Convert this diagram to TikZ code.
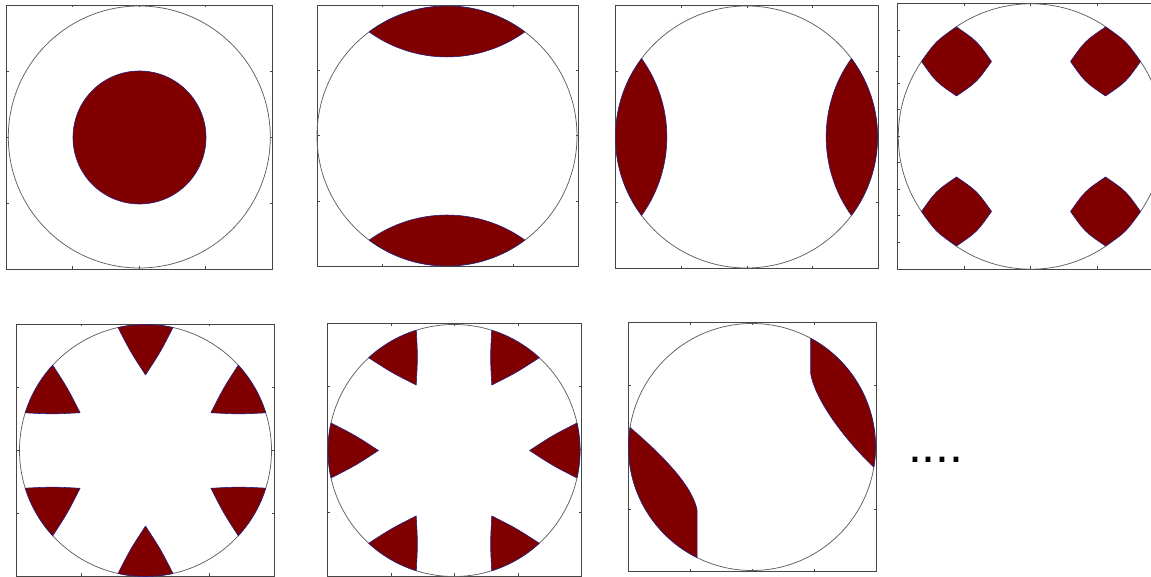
\documentclass[tikz,border=0pt]{standalone}
\usepackage{fontspec}
\newfontfamily\dotfont{Liberation Sans}
\definecolor{maroonfill}{RGB}{128,0,0}
\definecolor{edgeblue}{RGB}{40,30,130}
\definecolor{boxgray}{RGB}{70,70,70}
\definecolor{circgray}{RGB}{95,95,95}
\tikzset{
  boxline/.style={draw=boxgray, line width=0.8pt},
  ring/.style={draw=circgray, line width=0.75pt},
  blob/.style={fill=maroonfill, draw=edgeblue, line width=0.6pt, line join=round},
}
% box with inward ticks: x1 y1 x2 y2 nx nx-1 ny ny-1
\newcommand\axbox[8]{%
  \draw[boxline] (#1,#2) rectangle (#3,#4);
  \foreach \k in {1,...,#6}{%
    \pgfmathsetmacro\tkx{#1+(#3-#1)*\k/#5}
    \draw[boxline] (\tkx,#2) -- ++(0,2.5) (\tkx,#4) -- ++(0,-2.5);}
  \foreach \k in {1,...,#8}{%
    \pgfmathsetmacro\tky{#2+(#4-#2)*\k/#7}
    \draw[boxline] (#1,\tky) -- ++(2.5,0) (#3,\tky) -- ++(-2.5,0);}
}
\newcommand\lensA{(53.2:1) arc[start angle=53.2,end angle=126.8,radius=1] arc[start angle=234.3,end angle=305.7,radius=1.026] -- cycle}
\newcommand\wedgeA{(0,0.6) .. controls (-0.119,0.782) .. (102.6:1) arc[start angle=102.6,end angle=77.4,radius=1] .. controls (0.119,0.782) .. (0,0.6) -- cycle}
\begin{document}
\begin{tikzpicture}[x=1pt,y=1pt]
\useasboundingbox (0,0) rectangle (1151,577);
\clip (0,0) rectangle (1151,577);

% panel 1
\axbox{6}{308}{272.5}{572}{4}{3}{4}{3}
\draw[ring] (139.3,440) circle[radius=131];
\path[blob] (139.5,439.5) circle[radius=66.5];

% panel 2
\axbox{317.3}{310.3}{578.3}{572}{4}{3}{4}{3}
\draw[ring] (447,441) circle[radius=130];
\begin{scope}[shift={(447,441)},scale=130]
  \path[blob] \lensA;
  \begin{scope}[rotate=180]\path[blob] \lensA;\end{scope}
\end{scope}

% panel 3
\axbox{615.7}{308.7}{878.3}{571.3}{4}{3}{4}{3}
\draw[ring] (746.5,440) circle[radius=131];
\begin{scope}[shift={(746.5,440)},scale=131]
  \begin{scope}[rotate=90]\path[blob] \lensA;\end{scope}
  \begin{scope}[rotate=-90]\path[blob] \lensA;\end{scope}
\end{scope}

% panel 4
\axbox{897.3}{308}{1164}{573.5}{4}{3}{10}{9}
\draw[ring] (1031,440.5) circle[radius=132.7];
\begin{scope}[shift={(1031,440.5)}]
  \foreach \dx/\dy in {-74.5/75, 74.5/75, -74.5/-75, 74.5/-75}{
    \begin{scope}[shift={(\dx,\dy)}]
      \path[blob] (35,0) .. controls (20.5,20.5) .. (0,34.5)
        .. controls (-20.5,20.5) .. (-35,0)
        .. controls (-20.5,-20.5) .. (0,-34.5)
        .. controls (20.5,-20.5) .. (35,0) -- cycle;
    \end{scope}}
\end{scope}

% panel 5
\axbox{16.7}{1}{274}{253}{4}{3}{4}{3}
\draw[ring] (145.5,126.5) circle[radius=126];
\begin{scope}[shift={(145.5,126.5)},scale=126]
  \foreach \a in {0,60,...,300}{
    \begin{scope}[rotate=\a]\path[blob] \wedgeA;\end{scope}}
\end{scope}

% panel 6
\axbox{327.3}{1}{581.7}{253.7}{4}{3}{4}{3}
\draw[ring] (454,126.5) circle[radius=126];
\begin{scope}[shift={(454,126.5)},scale=126]
  \foreach \a in {30,90,...,330}{
    \begin{scope}[rotate=\a]\path[blob] \wedgeA;\end{scope}}
\end{scope}

% panel 7
\axbox{628.3}{5.3}{876.7}{254.3}{4}{3}{4}{3}
\draw[ring] (752,130) circle[radius=123.5];
\begin{scope}[shift={(752,130)}]
  \path[blob] (61.7:123.5) arc[start angle=61.7,end angle=-9.4,radius=123.5]
    .. controls (93,7) and (63,47) .. (58.6,73.7) -- cycle;
  \path[blob] (170.9:123.5) arc[start angle=170.9,end angle=243.6,radius=123.5]
    -- (-54.9,-63) .. controls (-60,-38) and (-90,-8) .. (170.9:123.5) -- cycle;
\end{scope}

\node[anchor=base west, inner sep=0pt, font=\dotfont\fontsize{50}{60}\selectfont] (dots) at (907.8,114.3) {....};
\end{tikzpicture}
\end{document}
